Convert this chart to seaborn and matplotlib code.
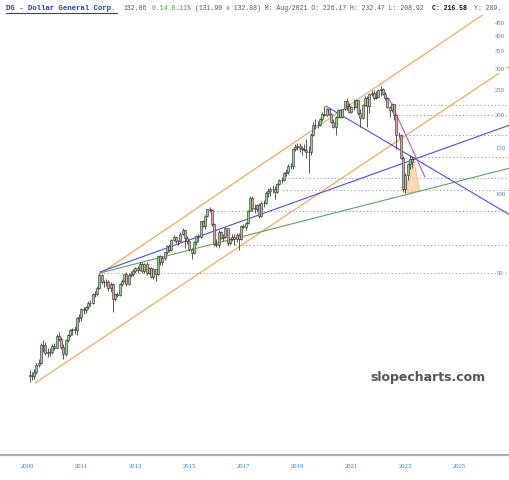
import numpy as np
import matplotlib
matplotlib.use("Agg")
import matplotlib.pyplot as plt
import seaborn as sns
from matplotlib.lines import Line2D
from matplotlib.ticker import NullLocator

# ---------------- data (monthly candles, Nov 2009 .. Jan 2024) ----------------
opens_2009 = [20.5, 20.3]
highs_2009 = [21.3, 21.0]
lows_2009 = [19.2, 19.5]
closes_2009 = [20.3, 20.2]

opens_2010 = [20.2, 21.0, 22.4, 22.8, 26.6, 26.6, 24.8, 25.1, 24.9, 26.4, 26.0, 28.8]
highs_2010 = [21.5, 22.8, 23.6, 27.0, 27.8, 27.2, 25.9, 25.8, 26.8, 27.0, 29.2, 29.9]
lows_2010 = [19.8, 20.6, 22.0, 22.5, 25.0, 24.4, 24.0, 24.2, 24.6, 25.5, 25.8, 27.5]
closes_2010 = [21.0, 22.4, 22.8, 26.6, 26.6, 24.8, 25.1, 24.9, 26.4, 26.0, 28.8, 28.0]

opens_2011 = [28.0, 26.2, 24.6, 27.8, 29.1, 30.2, 30.5, 30.2, 33.8, 34.0, 36.4, 36.1]
highs_2011 = [28.6, 26.9, 28.0, 29.4, 30.6, 31.0, 31.5, 34.1, 35.0, 36.8, 37.2, 37.5]
lows_2011 = [25.6, 23.6, 24.2, 27.2, 28.5, 28.9, 29.4, 29.0, 32.6, 32.9, 34.8, 35.2]
closes_2011 = [26.2, 24.6, 27.8, 29.1, 30.2, 30.5, 30.2, 33.8, 34.0, 36.4, 36.1, 37.0]

opens_2012 = [37.0, 38.6, 38.4, 41.6, 41.7, 43.9, 49.0, 46.4, 46.1, 46.4, 43.7, 45.6]
highs_2012 = [39.2, 39.5, 41.9, 42.8, 44.6, 49.9, 49.7, 47.2, 47.4, 47.0, 46.1, 46.0]
lows_2012 = [36.6, 37.6, 38.0, 40.5, 41.0, 43.5, 45.3, 44.1, 44.6, 42.8, 42.5, 35.5]
closes_2012 = [38.6, 38.4, 41.6, 41.7, 43.9, 49.0, 46.4, 46.1, 46.4, 43.7, 45.6, 39.7]

opens_2013 = [39.7, 41.6, 41.3, 45.5, 46.8, 49.4, 45.4, 49.3, 49.5, 50.9, 52.1, 51.4]
highs_2013 = [42.0, 42.3, 45.8, 47.4, 49.7, 50.4, 50.0, 51.1, 51.8, 52.8, 53.1, 55.0]
lows_2013 = [39.2, 40.4, 41.0, 44.6, 46.2, 44.8, 45.0, 48.4, 48.9, 49.8, 50.2, 50.8]
closes_2013 = [41.6, 41.3, 45.5, 46.8, 49.4, 45.4, 49.3, 49.5, 50.9, 52.1, 51.4, 54.3]

opens_2014 = [54.3, 50.7, 54.1, 50.0, 52.1, 48.2, 51.7, 49.7, 58.0, 55.0, 56.9, 59.9]
highs_2014 = [54.9, 54.5, 55.0, 52.5, 52.6, 52.4, 52.0, 58.5, 58.6, 57.8, 60.3, 64.2]
lows_2014 = [50.0, 50.1, 49.2, 49.5, 47.8, 47.6, 46.5, 49.2, 53.8, 53.6, 56.1, 59.1]
closes_2014 = [50.7, 54.1, 50.0, 52.1, 48.2, 51.7, 49.7, 58.0, 55.0, 56.9, 59.9, 63.6]

opens_2015 = [63.6, 61.1, 67.0, 68.6, 66.2, 66.1, 70.7, 73.2, 67.9, 66.2, 61.7, 59.5]
highs_2015 = [64.3, 67.6, 69.6, 69.2, 67.0, 71.4, 74.0, 73.6, 69.0, 67.0, 62.3, 66.3]
lows_2015 = [60.2, 60.5, 66.3, 65.0, 64.1, 65.8, 69.8, 62.5, 64.7, 60.8, 56.4, 58.9]
closes_2015 = [61.1, 67.0, 68.6, 66.2, 66.1, 70.7, 73.2, 67.9, 66.2, 61.7, 59.5, 65.4]

opens_2016 = [65.4, 69.1, 68.6, 78.8, 75.3, 82.4, 87.5, 87.1, 77.1, 64.4, 63.7, 71.4]
highs_2016 = [69.6, 70.4, 79.2, 79.8, 83.0, 88.0, 88.9, 87.6, 77.6, 67.5, 72.6, 72.0]
lows_2016 = [63.9, 65.4, 68.2, 74.6, 73.8, 81.6, 85.4, 75.4, 63.6, 62.8, 62.0, 67.2]
closes_2016 = [69.1, 68.6, 78.8, 75.3, 82.4, 87.5, 87.1, 77.1, 64.4, 63.7, 71.4, 68.2]

opens_2017 = [68.2, 68.6, 73.9, 64.8, 67.6, 68.4, 67.1, 69.9, 67.5, 75.4, 75.1, 77.3]
highs_2017 = [70.5, 74.6, 74.2, 68.2, 70.2, 70.5, 70.8, 71.0, 76.0, 76.9, 78.0, 87.0]
lows_2017 = [66.5, 68.0, 63.5, 63.8, 66.5, 64.2, 65.8, 61.4, 67.0, 73.9, 72.8, 76.8]
closes_2017 = [68.6, 73.9, 64.8, 67.6, 68.4, 67.1, 69.9, 67.5, 75.4, 75.1, 77.3, 86.5]

opens_2018 = [86.5, 96.9, 88.2, 87.9, 90.8, 82.3, 92.7, 92.3, 101.3, 102.7, 104.7, 104.2]
highs_2018 = [98.6, 98.0, 91.8, 91.5, 92.4, 93.7, 94.5, 103.0, 105.0, 106.0, 108.2, 107.0]
lows_2018 = [86.0, 86.5, 84.9, 86.4, 80.8, 81.9, 89.6, 91.8, 97.8, 98.3, 101.0, 95.9]
closes_2018 = [96.9, 88.2, 87.9, 90.8, 82.3, 92.7, 92.3, 101.3, 102.7, 104.7, 104.2, 101.6]

opens_2019 = [101.6, 109.6, 112.7, 113.3, 119.8, 120.8, 128.4, 127.3, 148.1, 151.0, 152.3, 149.7]
highs_2019 = [110.4, 114.0, 115.6, 121.0, 124.3, 129.6, 130.7, 149.2, 154.6, 155.8, 157.0, 152.0]
lows_2019 = [100.6, 107.8, 109.9, 112.4, 117.3, 119.6, 124.8, 124.0, 145.3, 146.8, 145.0, 140.8]
closes_2019 = [109.6, 112.7, 113.3, 119.8, 120.8, 128.4, 127.3, 148.1, 151.0, 152.3, 149.7, 148.2]

opens_2020 = [148.2, 147.3, 144.4, 145.0, 168.1, 183.6, 182.9, 182.8, 193.8, 201.2, 200.4, 209.9]
highs_2020 = [154.4, 161.4, 152.0, 170.8, 188.0, 192.4, 189.0, 195.5, 206.0, 216.0, 212.5, 211.6]
lows_2020 = [146.0, 137.6, 120.0, 140.6, 166.3, 176.1, 178.6, 182.0, 190.0, 199.0, 198.4, 199.8]
closes_2020 = [147.3, 144.4, 145.0, 168.1, 183.6, 182.9, 182.8, 193.8, 201.2, 200.4, 209.9, 201.9]

opens_2021 = [201.9, 188.8, 180.2, 196.5, 208.3, 197.1, 209.9, 226.17, 216.6, 205.7, 214.9, 214.7]
highs_2021 = [203.0, 193.0, 197.5, 210.5, 210.8, 211.0, 226.8, 232.47, 222.0, 216.3, 230.0, 230.2]
lows_2021 = [186.9, 178.6, 168.0, 195.0, 194.0, 194.2, 208.5, 208.92, 204.0, 203.8, 209.4, 213.0]
closes_2021 = [188.8, 180.2, 196.5, 208.3, 197.1, 209.9, 225.6, 216.58, 205.7, 214.9, 214.7, 228.7]

opens_2022 = [228.7, 204.3, 195.1, 218.1, 232.8, 215.9, 240.6, 243.6, 232.8, 235.1, 250.0, 250.6]
highs_2022 = [229.0, 210.0, 219.5, 235.3, 236.0, 242.2, 249.0, 249.8, 247.0, 252.3, 256.8, 254.0]
lows_2022 = [200.0, 179.5, 193.0, 216.0, 180.5, 203.0, 236.0, 228.8, 231.0, 233.6, 237.0, 238.6]
closes_2022 = [204.3, 195.1, 218.1, 232.8, 215.9, 240.6, 243.6, 232.8, 235.1, 250.0, 250.6, 241.3]

opens_2023 = [241.3, 231.4, 214.2, 208.4, 219.4, 199.1, 168.1, 167.2, 137.2, 104.7, 118.0, 129.8]
highs_2023 = [244.0, 234.0, 217.0, 222.0, 220.5, 200.5, 173.0, 169.0, 139.0, 120.5, 131.5, 140.5]
lows_2023 = [228.0, 211.8, 196.0, 206.0, 191.0, 148.5, 163.0, 136.0, 102.0, 100.5, 113.5, 124.5]
closes_2023 = [231.4, 214.2, 208.4, 219.4, 199.1, 168.1, 167.2, 137.2, 104.7, 118.0, 129.8, 135.9]

opens_2024 = [135.9]
highs_2024 = [139.5]
lows_2024 = [126.0]
closes_2024 = [132.06]

years = list(range(2009, 2025))
opens = sum([globals()[f"opens_{y}"] for y in years], [])
highs = sum([globals()[f"highs_{y}"] for y in years], [])
lows = sum([globals()[f"lows_{y}"] for y in years], [])
closes = sum([globals()[f"closes_{y}"] for y in years], [])

# horizontal support / resistance levels: price, and chart-year where they begin
level_prices = [218.4, 200.0, 167.8, 138.4, 115.1, 103.6, 86.1, 63.9, 50.0]
level_starts = [2022.63, 2022.63, 2022.89, 2023.19, 2018.67, 2018.48, 2015.78, 2016.70, 2011.70]

# trend lines: (x0, y0, x1, y1) in chart-year / price
trend_upper_orange = (2011.70, 49.6, 2026.89, 566.0)
trend_lower_orange = (2009.30, 19.06, 2026.89, 307.6)
trend_blue_up = (2011.70, 50.45, 2026.89, 183.3)
trend_green = (2011.70, 50.0, 2026.89, 125.6)
trend_blue_down = (2020.07, 216.3, 2026.89, 83.2)
trend_violet = (2022.40, 232.0, 2023.74, 116.1)

# shaded triangle near the latest candles
tri_x = [2023.00, 2023.30, 2023.56]
tri_y = [100.9, 138.3, 102.7]

ytick_values = [450, 400, 350, 300, 250, 200, 150, 100, 50]
xtick_values = [2009, 2011, 2013, 2015, 2017, 2019, 2021, 2023, 2025]

# ---------------- drawing ----------------
sns.set_theme(style="white")
plt.rcParams["font.family"] = ["DejaVu Sans"]

W, H = 510, 480
fig = plt.figure(figsize=(W / 100, H / 100), dpi=100)
ax = fig.add_axes([0, 25 / H, 1, 440 / H])
ax.set_yscale("log")
ax.set_xlim(2008.0, 2026.89)
ax.set_ylim(10.13, 480.8)
ax.set_axisbelow(False)

first_candle = 2009.1  # position of the first monthly candle on the chart's year axis
o = np.array(opens)
h = np.array(highs)
l = np.array(lows)
c = np.array(closes)
t = first_candle + np.arange(len(c)) / 12.0
up = c >= o

# dotted levels
ax.hlines(level_prices, level_starts, 2026.89, colors="#9a9a9a",
          linestyles=(0, (1, 2.2)), linewidth=0.8, zorder=1)

# shaded triangle
ax.fill(tri_x, tri_y, facecolor="#f7d5ad", edgecolor="#eab27a", linewidth=0.5, alpha=0.9, zorder=1.5)

# trend lines via seaborn
for line, col in [(trend_upper_orange, "#f2a04f"), (trend_lower_orange, "#f2a04f"),
                  (trend_blue_up, "#4f4fe0"), (trend_green, "#5fa35f"),
                  (trend_blue_down, "#4f4fe0"), (trend_violet, "#b45ad0")]:
    sns.lineplot(x=[line[0], line[2]], y=[line[1], line[3]], color=col,
                 linewidth=0.8, ax=ax, zorder=2)

# candles
ax.vlines(t, l, h, color="#2a2a2a", linewidth=0.55, zorder=3)
ax.bar(t[up], (c - o)[up], bottom=o[up], width=0.075, color="#8ed48e",
       edgecolor="#2a2a2a", linewidth=0.4, zorder=4)
ax.bar(t[~up], (o - c)[~up], bottom=c[~up], width=0.075, color="#e6a2a2",
       edgecolor="#2a2a2a", linewidth=0.4, zorder=4)

# axes styling
for s in ["top", "left", "right"]:
    ax.spines[s].set_visible(False)
ax.spines["bottom"].set_color("#adadad")
ax.spines["bottom"].set_linewidth(1.6)

ax.yaxis.set_minor_locator(NullLocator())
ax.set_yticks(ytick_values)
ax.set_yticklabels([str(v) for v in ytick_values])
ax.yaxis.tick_right()
ax.tick_params(axis="y", length=0, pad=-7.2, labelsize=4.8, labelcolor="#2f7fbf")
for lbl in ax.get_yticklabels():
    lbl.set_horizontalalignment("center")
    lbl.set_family(["Liberation Serif"])
    lbl.set_bbox(dict(facecolor="white", edgecolor="none", pad=0.8))

ax.set_xticks(xtick_values)
ax.set_xticklabels([str(v) for v in xtick_values])
ax.tick_params(axis="x", length=0, pad=6.5, labelsize=4.8, labelcolor="#2f7fbf")
for lbl in ax.get_xticklabels():
    lbl.set_family(["Liberation Serif"])
ax.set_xlabel("")
ax.set_ylabel("")
ax.grid(False)

# header
def px(x, y):
    return x / W, 1 - y / H

mono = ["Liberation Mono", "DejaVu Sans Mono"]
fig.text(*px(6, 8), "DG - Dollar General Corp.", family=mono, fontsize=5.3,
         fontweight="bold", color="#1f3fc4", va="center", ha="left")
fig.add_artist(Line2D([6 / W, 117 / W], [1 - 12.5 / H, 1 - 12.5 / H],
                      color="#1f3fc4", linewidth=0.8))
fig.text(*px(124, 8), "132.06", family=mono, fontsize=4.7, color="#555555", va="center")
fig.text(*px(152, 8), "0.14 0.11%", family=mono, fontsize=4.7, color="#3a9a3a", va="center")
fig.text(*px(195, 8), "(131.90 x 132.88) M: Aug/2021 O: 226.17 H: 232.47 L: 208.92",
         family=mono, fontsize=4.7, color="#555555", va="center")
fig.text(*px(432, 8), "C: 216.58", family=mono, fontsize=4.7, fontweight="bold",
         color="#111111", va="center")
fig.text(*px(474, 8), "Y: 289.", family=mono, fontsize=4.7, color="#555555", va="center")

# watermark
fig.text(*px(428, 378), "slopecharts.com", fontsize=9, fontweight="bold",
         color="#555555", ha="center", va="center")

fig.savefig("out.png", dpi=100)
